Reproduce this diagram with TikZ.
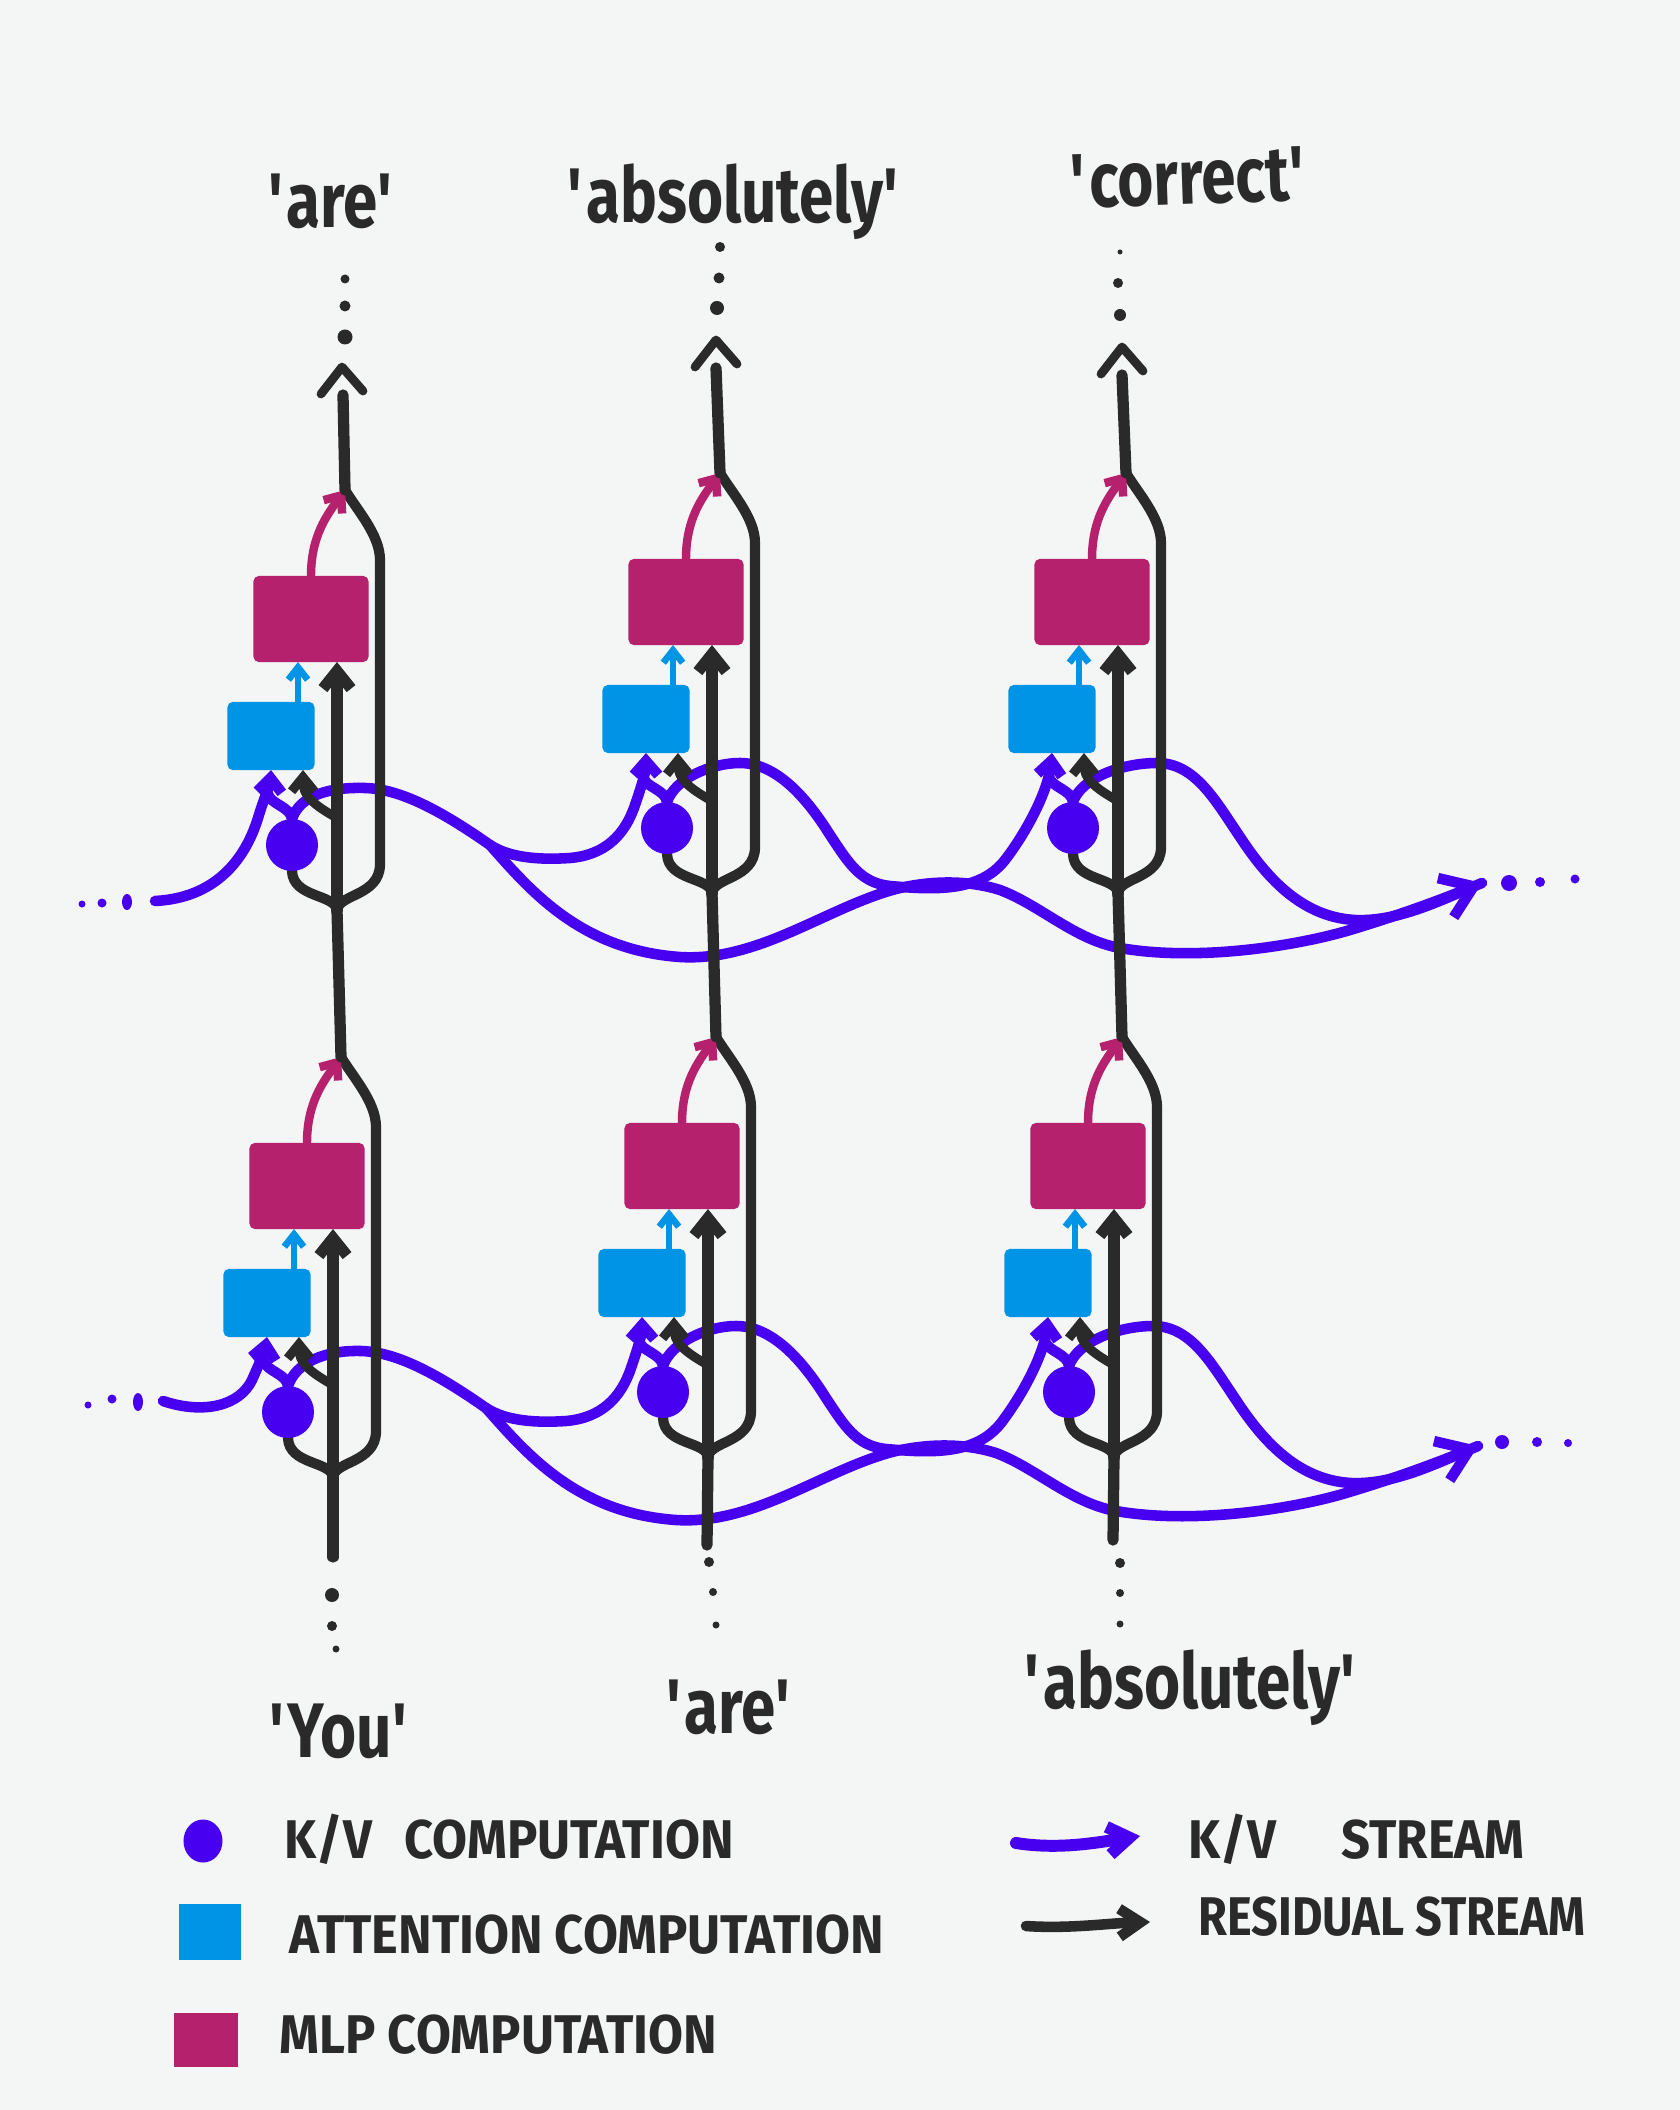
\documentclass[tikz,border=0pt]{standalone}
\usepackage{fontspec}
\setmainfont{Fira Sans}
\newfontfamily\hand[FakeStretch=0.8]{Fira Sans}
\newfontfamily\handA[FakeStretch=0.93]{Fira Sans}
\newfontfamily\handB[FakeStretch=0.86]{Fira Sans}
\usetikzlibrary{arrows.meta,calc,shapes.geometric}
\pgfdeclarelayer{back}
\pgfdeclarelayer{kvlayer}
\pgfdeclarelayer{fore}
\pgfsetlayers{back,kvlayer,main,fore}
\definecolor{bgc}{RGB}{244,245,245}
\definecolor{ink}{RGB}{42,42,42}
\definecolor{kvc}{RGB}{72,0,240}
\definecolor{attc}{RGB}{0,148,230}
\definecolor{mlpc}{RGB}{181,33,108}
\newcommand\q{\textquotesingle}
\tikzset{
  res/.style={draw=ink,line width=3.2pt,line cap=round,line join=round},
  resarm/.style={draw=ink,line width=2.9pt,line cap=round,line join=round},
  ressm/.style={draw=ink,line width=2.6pt,line cap=round},
  chev/.style={draw=ink,line width=2.5pt,line cap=round,line join=round},
  kvl/.style={draw=kvc,line width=3pt,line cap=round,line join=round},
  mlpl/.style={draw=mlpc,line width=2.4pt,line cap=round},
  attl/.style={draw=attc,line width=1.9pt,line cap=round},
  mlpbox/.style={fill=mlpc,rounded corners=1.5pt,minimum width=1.15cm,minimum height=0.86cm,inner sep=0,outer sep=0},
  attbox/.style={fill=attc,rounded corners=1.5pt,minimum width=0.87cm,minimum height=0.68cm,inner sep=0,outer sep=0},
  kvdot/.style={circle,fill=kvc,minimum size=0.52cm,inner sep=0,outer sep=0},
  word/.style={font=\hand\bfseries\fontsize{22}{24}\selectfont,text=ink,inner sep=0,anchor=base},
  lab/.style={font=\handA\bfseries\fontsize{15.5}{17}\selectfont,text=ink,inner sep=0,anchor=base west},
  kvtip/.tip={Straight Barb[length=4pt,width=7pt]},
  bigtip/.tip={Straight Barb[length=8.5pt,width=12pt]},
  restip/.tip={Straight Barb[length=5pt,width=8pt]},
  sresTip/.tip={Straight Barb[length=4pt,width=6.5pt]},
  mlptip/.tip={Straight Barb[length=4pt,width=6.5pt]},
  atttip/.tip={Straight Barb[length=3.5pt,width=5.5pt]},
}
% cell nodes: #1 name, (#2,#3) split point
\newcommand\mkcell[3]{%
 \begin{scope}[shift={(#2,#3)}]
  \coordinate (S#1) at (0,0);
  \coordinate (M#1) at (8,-420);
  \coordinate (R#1) at (43,-45);
  \coordinate (Rt#1) at (43,-350);
  \coordinate (tap#1) at (0,-92);
  \coordinate (attR#1) at (-34,-140);
  \coordinate (mlpA#1) at (-39,-248);
  \node[mlpbox] (mlp#1) at (-26,-291) {};
  \node[attbox] (att#1) at (-66,-174) {};
  \node[kvdot] (kv#1) at (-45,-65) {};
 \end{scope}}
\newcommand\cellines[1]{%
 \draw[res,-{restip}] (S#1) -- (S#1 |- mlp#1.south);
 \draw[resarm] (S#1) .. controls ($(S#1)+(2,-16)$) and ($(S#1)+(42,-14)$) .. (R#1)
    -- (Rt#1) .. controls ($(Rt#1)+(0,-25)$) and ($(M#1)+(12,20)$) .. (M#1);
 \draw[resarm] (S#1) .. controls ($(S#1)+(-2,-16)$) and ($(S#1)+(-44,-12)$) .. (kv#1.south);
 \draw[ressm,-{sresTip}] (tap#1) .. controls ($(tap#1)+(-25,-14)$) and ($(attR#1)+(0,25)$) .. (attR#1);
 \draw[mlpl,-{mlptip}] (mlp#1.north) .. controls ($(mlp#1.north)+(0,-40)$) and ($(M#1)+(-18,25)$) .. (M#1);
 \draw[attl,-{atttip}] (att#1.north -| mlpA#1) -- (mlpA#1);
 \begin{pgfonlayer}{kvlayer}
 \draw[kvl] (kv#1.north) .. controls ($(kv#1.north)+(-1,-12)$) and ($(att#1.south)+(-1,34)$) .. ($(att#1.south)+(-3,24)$);
 \end{pgfonlayer}}
% K/V stream curves of one row: #1 row, shift (#2,#3)
\newcommand\kvrow[3]{%
 \begin{pgfonlayer}{kvlayer}
 \begin{scope}[shift={(#2,#3)}]
  \coordinate (sp#1) at (490,845);
  \coordinate (out#1) at (1482,883);
  \draw[kvl] (kv1#1.north) .. controls ($(kv1#1.north)+(8,-24)$) and (330,787) .. (365,788)
     .. controls (400,789) and (440,810) .. (sp#1);
  \draw[kvl,-{kvtip}] (sp#1) .. controls (510,858) and (540,860) .. (570,858)
     .. controls (605,855) and (625,835) .. (635,805)
     .. controls (642,785) and (646,770) .. (att2#1.south);
  \draw[kvl,-{bigtip}] (sp#1) .. controls (530,890) and (580,950) .. (680,957)
     .. controls (760,962) and (830,905) .. (900,888)
     .. controls (940,879) and (975,882) .. (1000,890)
     .. controls (1040,905) and (1075,940) .. (1120,948)
     .. controls (1200,962) and (1300,945) .. (1350,930)
     .. controls (1400,915) and (1440,900) .. (out#1);
  \draw[kvl,-{kvtip}] (kv2#1.north) .. controls ($(kv2#1.north)+(8,-24)$) and (712,763) .. (740,763)
     .. controls (775,763) and (805,795) .. (830,835)
     .. controls (848,862) and (860,883) .. (890,886)
     .. controls (935,890) and (980,892) .. (1005,860)
     .. controls (1028,830) and (1048,790) .. (att3#1.south);
  \draw[kvl] (kv3#1.north) .. controls ($(kv3#1.north)+(8,-24)$) and (1122,763) .. (1157,763)
     .. controls (1195,763) and (1215,800) .. (1240,837)
     .. controls (1265,875) and (1300,917) .. (1355,920)
     .. controls (1400,922) and (1445,898) .. (out#1);
 \end{scope}
 \end{pgfonlayer}}
\begin{document}
\begin{tikzpicture}[x=0.01cm,y=-0.01cm]
\begin{pgfonlayer}{back}
\fill[bgc] (0,0) rectangle (1680,2110);
\end{pgfonlayer}
\useasboundingbox (0,0) rectangle (1680,2110);
% ---------- cells ----------
\begin{pgfonlayer}{fore}
\mkcell{11}{337}{910}
\mkcell{21}{712}{893}
\mkcell{31}{1118}{893}
\mkcell{12}{333}{1477}
\mkcell{22}{708}{1457}
\mkcell{32}{1114}{1457}
\end{pgfonlayer}
\cellines{11}\cellines{21}\cellines{31}
\cellines{12}\cellines{22}\cellines{32}
% ---------- residual stream between rows, top and bottom ----------
\coordinate (ap1) at (342,367); \coordinate (ap2) at (716,340); \coordinate (ap3) at (1122,347);
\coordinate (tp1) at (343,395); \coordinate (tp2) at (716,368); \coordinate (tp3) at (1122,375);
\coordinate (bt1) at (333,1557); \coordinate (bt2) at (707,1545); \coordinate (bt3) at (1113,1540);
\draw[res] (M12) -- (S11);
\draw[res] (M22) -- (S21);
\draw[res] (M32) -- (S31);
\draw[res] (M11) -- (tp1);
\draw[res] (M21) -- (tp2);
\draw[res] (M31) -- (tp3);
\draw[res] (S12) -- (bt1);
\draw[res] (S22) -- (bt2);
\draw[res] (S32) -- (bt3);
\foreach \a in {ap1,ap2,ap3}{
  \draw[chev] ($(\a)+(-21,27)$) -- (\a) -- ($(\a)+(21,24)$);
}
% dots above and below
\fill[ink] (345,279) circle (4.5) (345,306) circle (5.5) (345,337) circle (7.5);
\fill[ink] (720,247) circle (5) (719,278) circle (5.5) (717,308) circle (7);
\fill[ink] (1120,252) circle (2.5) (1118,283) circle (5) (1120,315) circle (6);
\fill[ink] (332,1595) circle (7) (332,1626) circle (5) (336,1649) circle (3.5);
\fill[ink] (709,1562) circle (5) (713,1592) circle (4) (716,1625) circle (3.5);
\fill[ink] (1120,1563) circle (5) (1120,1593) circle (4) (1120,1624) circle (3.5);
% ---------- K/V streams ----------
\kvrow{1}{0}{0}
\kvrow{2}{-4}{563}
\coordinate (in1) at (155,901);
\coordinate (in2) at (163,1401);
\begin{pgfonlayer}{kvlayer}
\draw[kvl,-{kvtip}] (in1) .. controls (215,898) and (245,860) .. (258,818)
   .. controls (265,795) and (270,785) .. (att11.south);
\draw[kvl,-{kvtip}] (in2) .. controls (205,1415) and (240,1405) .. (252,1380)
   .. controls (260,1362) and (265,1350) .. (att12.south);
\end{pgfonlayer}
\fill[kvc] (82,904) circle (3.5) (102,903) circle (4.5) (127,902) ellipse (5 and 8);
\fill[kvc] (88,1405) circle (3.5) (112,1399) circle (4.5) (138,1402) ellipse (5 and 9);
\fill[kvc] (1509,883) circle (8) (1540,882) circle (5) (1575,879) circle (4.5);
\fill[kvc] (1502,1442) circle (7) (1537,1442) circle (5) (1568,1443) circle (4);
% ---------- token labels ----------
\node[word] (t1) at (332,228) {\q are\q};
\node[word] (t2) at (735,223) {\q absolutely\q};
\node[word,rotate=2] (t3) at (1190,204) {\q correct\q};
\node[word] (b1) at (340,1757) {\q You\q};
\node[word] (b2) at (730,1733) {\q are\q};
\node[word] (b3) at (1192,1708) {\q absolutely\q};
% ---------- legend ----------
\node[ellipse,fill=kvc,minimum width=0.39cm,minimum height=0.43cm,inner sep=0] (lgkv) at (203,1841) {};
\node[fill=attc,minimum width=0.62cm,minimum height=0.56cm,inner sep=0] (lgatt) at (210,1932) {};
\node[fill=mlpc,minimum width=0.64cm,minimum height=0.54cm,inner sep=0] (lgmlp) at (206,2040) {};
\node[lab] (lt1) at (284,1858) {K/V\hspace{0.6em}COMPUTATION};
\node[lab] (lt2) at (289,1953) {ATTENTION COMPUTATION};
\node[lab] (lt3) at (279,2053) {MLP COMPUTATION};
\node[lab] (lt4) at (1188,1858) {K/V\hspace{1.2em}STREAM};
\node[lab,font=\handB\bfseries\fontsize{15.5}{17}\selectfont] (lt5) at (1198,1935) {RESIDUAL STREAM};
\coordinate (lk1) at (1016,1843); \coordinate (lk2) at (1140,1836);
\coordinate (lr1) at (1026,1926); \coordinate (lr2) at (1150,1922);
\draw[kvl,line width=3.4pt,-{Straight Barb[length=6pt,width=8pt]}] (lk1) .. controls (1060,1850) and (1100,1842) .. (lk2);
\draw[res,line width=3pt,-{Straight Barb[length=6pt,width=8pt]}] (lr1) .. controls (1070,1929) and (1110,1923) .. (lr2);
\end{tikzpicture}
\end{document}
